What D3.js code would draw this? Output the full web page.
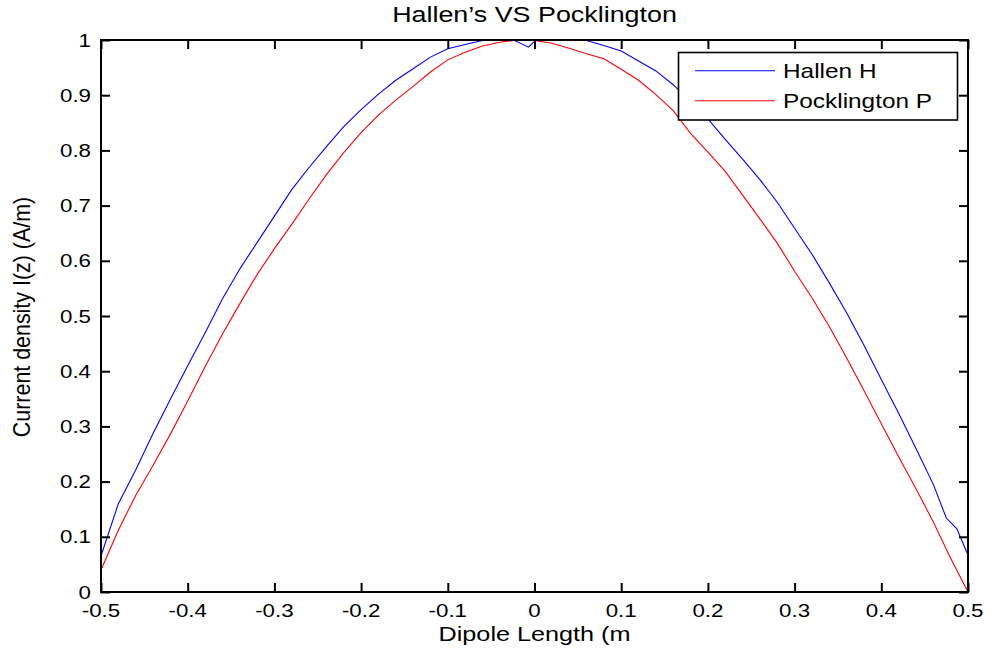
<!DOCTYPE html>
<html>
<head>
<meta charset="utf-8">
<script src="https://cdn.jsdelivr.net/npm/d3@7"></script>
<style>
  html, body { margin: 0; padding: 0; background: #fff; }
  svg { display: block; font-family: "Liberation Sans", Arial, sans-serif; }
</style>
</head>
<body>
<svg id="chart" width="991" height="652"></svg>
<script>
const titleText = "Hallen\u2019s VS Pocklington";
const xLabel = "Dipole Length (m";
const yLabel = "Current density I(z) (A/m)";
const xTicks = [-0.5, -0.4, -0.3, -0.2, -0.1, 0, 0.1, 0.2, 0.3, 0.4, 0.5];
const xTickLabels = ["-0.5", "-0.4", "-0.3", "-0.2", "-0.1", "0", "0.1", "0.2", "0.3", "0.4", "0.5"];
const yTicks = [0, 0.1, 0.2, 0.3, 0.4, 0.5, 0.6, 0.7, 0.8, 0.9, 1];
const yTickLabels = ["0", "0.1", "0.2", "0.3", "0.4", "0.5", "0.6", "0.7", "0.8", "0.9", "1"];
const seriesNames = ["Hallen H", "Pocklington P"];

const hallenZ = [-0.5,-0.48,-0.46,-0.44,-0.42,-0.40,-0.38,-0.36,-0.34,-0.32,-0.30,-0.28,-0.26,-0.24,-0.22,-0.20,-0.18,-0.16,-0.14,-0.12,-0.10,-0.08,-0.06,-0.04,-0.024,-0.007,0.001,0.02,0.04,0.06,0.08,0.10,0.12,0.14,0.16,0.18,0.20,0.22,0.24,0.26,0.28,0.30,0.32,0.34,0.36,0.38,0.40,0.42,0.44,0.46,0.475,0.487,0.5];
const hallenI = [0.065,0.16,0.221,0.287,0.349,0.41,0.469,0.531,0.585,0.633,0.681,0.729,0.769,0.807,0.843,0.874,0.902,0.927,0.948,0.969,0.984,0.992,0.999,1.0,1.0,0.987,0.999,1.0,1.0,0.999,0.99,0.98,0.962,0.944,0.919,0.889,0.857,0.82,0.784,0.747,0.706,0.659,0.612,0.56,0.506,0.447,0.385,0.324,0.26,0.195,0.134,0.115,0.067];

const pockZ = [-0.5,-0.48,-0.46,-0.44,-0.42,-0.40,-0.38,-0.36,-0.34,-0.32,-0.30,-0.28,-0.26,-0.24,-0.22,-0.20,-0.18,-0.16,-0.14,-0.12,-0.10,-0.08,-0.06,-0.04,-0.02,0,0.02,0.04,0.06,0.08,0.10,0.12,0.14,0.16,0.18,0.20,0.22,0.24,0.26,0.28,0.30,0.32,0.34,0.36,0.38,0.40,0.42,0.44,0.46,0.48,0.5];
const pockI = [0.04,0.112,0.175,0.229,0.286,0.346,0.408,0.467,0.522,0.575,0.622,0.666,0.712,0.756,0.796,0.832,0.864,0.891,0.916,0.942,0.964,0.978,0.989,0.996,1.0,0.999,0.994,0.985,0.975,0.966,0.947,0.927,0.901,0.872,0.831,0.797,0.762,0.719,0.676,0.632,0.581,0.533,0.481,0.424,0.365,0.305,0.245,0.187,0.127,0.061,0.0];

const colors = ["#0000ff", "#ff0000"];

const W = 991, H = 652;
const m = { left: 101, top: 40, right: 968, bottom: 592 };
const svg = d3.select("#chart");

const x = d3.scaleLinear().domain([-0.5, 0.5]).range([m.left, m.right]);
const y = d3.scaleLinear().domain([0, 1]).range([m.bottom, m.top]);

const SX = 1.24; // horizontal stretch of text in reference

function stretchedText(g, px, py, txt, size, anchor, sx) {
  return g.append("text")
    .attr("transform", `translate(${px},${py}) scale(${sx},1)`)
    .attr("text-anchor", anchor)
    .attr("font-size", size)
    .attr("fill", "#000")
    .text(txt);
}

svg.append("rect").attr("width", W).attr("height", H).attr("fill", "#fff");

const line = d3.line().x(d => x(d[0])).y(d => y(d[1]));
const hallenData = hallenZ.map((z, i) => [z, hallenI[i]]);
const pockData = pockZ.map((z, i) => [z, pockI[i]]);

svg.append("defs").append("clipPath").attr("id", "clip")
  .append("rect").attr("x", m.left).attr("y", m.top - 1)
  .attr("width", m.right - m.left).attr("height", m.bottom - m.top + 2);

const plot = svg.append("g").attr("clip-path", "url(#clip)");
plot.append("path").datum(hallenData).attr("d", line)
  .attr("fill", "none").attr("stroke", colors[0]).attr("stroke-width", 1.1);
plot.append("path").datum(pockData).attr("d", line)
  .attr("fill", "none").attr("stroke", colors[1]).attr("stroke-width", 1.1);

const tickLen = 9;
const axB = svg.append("g").attr("transform", `translate(0,${m.bottom})`)
  .call(d3.axisBottom(x).tickValues(xTicks).tickSize(-tickLen).tickFormat(""));
const axT = svg.append("g").attr("transform", `translate(0,${m.top})`)
  .call(d3.axisTop(x).tickValues(xTicks).tickSize(-tickLen).tickFormat(""));
const axL = svg.append("g").attr("transform", `translate(${m.left},0)`)
  .call(d3.axisLeft(y).tickValues(yTicks).tickSize(-tickLen).tickFormat(""));
const axR = svg.append("g").attr("transform", `translate(${m.right},0)`)
  .call(d3.axisRight(y).tickValues(yTicks).tickSize(-tickLen).tickFormat(""));
[axB, axT, axL, axR].forEach(a => {
  a.select(".domain").remove();
  a.selectAll(".tick line").attr("stroke", "#000").attr("stroke-width", 2);
});
svg.append("rect")
  .attr("x", m.left).attr("y", m.top)
  .attr("width", m.right - m.left).attr("height", m.bottom - m.top)
  .attr("fill", "none").attr("stroke", "#000").attr("stroke-width", 2);

const labels = svg.append("g");
xTicks.forEach((t, i) => {
  stretchedText(labels, x(t), 617, xTickLabels[i], 18, "middle", SX);
});
yTicks.forEach((t, i) => {
  stretchedText(labels, 91, y(t) + 6.5, yTickLabels[i], 18, "end", SX);
});

stretchedText(svg, (m.left + m.right) / 2, 22, titleText, 21.5, "middle", 1.25);
stretchedText(svg, (m.left + m.right) / 2, 641, xLabel, 21, "middle", 1.2);
svg.append("text")
  .attr("transform", `translate(30,${(m.top + m.bottom) / 2 + 1}) rotate(-90) scale(1.02,1.15)`)
  .attr("text-anchor", "middle")
  .attr("font-size", 21)
  .attr("fill", "#000")
  .text(yLabel);

const leg = svg.append("g");
leg.append("rect").attr("x", 678.5).attr("y", 52.5).attr("width", 279).attr("height", 67.5)
  .attr("fill", "#fff").attr("stroke", "#000").attr("stroke-width", 1.6);
const legY = [70.7, 100.7];
seriesNames.forEach((name, i) => {
  leg.append("line").attr("x1", 695).attr("x2", 775).attr("y1", legY[i]).attr("y2", legY[i])
    .attr("stroke", colors[i]).attr("stroke-width", 1.1);
  stretchedText(leg, 783, legY[i] + 7, name, 20, "start", 1.22);
});
</script>
</body>
</html>
